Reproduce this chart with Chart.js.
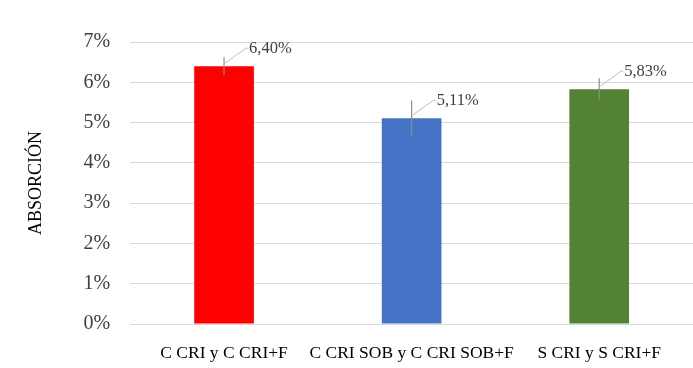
<!DOCTYPE html>
<html><head><meta charset="utf-8">
<script src="https://cdn.jsdelivr.net/npm/chart.js@4/dist/chart.umd.min.js"></script>
<style>html,body{margin:0;padding:0;background:#fff}#w{width:693px;height:368px}</style>
</head><body><div id="w"><canvas id="c"></canvas></div>
<script>
const categories = ["C CRI y C CRI+F", "C CRI SOB y C CRI SOB+F", "S CRI y S CRI+F"];
const values = [6.40, 5.11, 5.83];
const errors = [0.22, 0.44, 0.27];
const valueLabels = ["6,40%", "5,11%", "5,83%"];
const colors = ["#ff0000", "#4472c4", "#548235"];
const yTicks = [0, 1, 2, 3, 4, 5, 6, 7];

const extras = {
  id: 'extras',
  afterDatasetsDraw(chart) {
    const ctx = chart.ctx;
    const meta = chart.getDatasetMeta(0);
    const y = chart.scales.y;
    ctx.save();
    meta.data.forEach((bar, i) => {
      const x = bar.x;
      const top = y.getPixelForValue(values[i] + errors[i]);
      const bot = y.getPixelForValue(values[i] - errors[i]);
      ctx.strokeStyle = '#8c8c8c';
      ctx.lineWidth = 1.2;
      ctx.beginPath();
      ctx.moveTo(x, top); ctx.lineTo(x, bot);
      ctx.stroke();
      const vy = y.getPixelForValue(values[i]);
      ctx.strokeStyle = '#bfbfbf';
      ctx.lineWidth = 1;
      ctx.beginPath();
      ctx.moveTo(x + 1, vy - 3);
      ctx.lineTo(x + 22, vy - 18);
      ctx.lineTo(x + 24, vy - 18);
      ctx.stroke();
      ctx.fillStyle = '#404040';
      ctx.font = '16.5px "Liberation Serif", serif';
      ctx.textBaseline = 'middle';
      ctx.textAlign = 'left';
      ctx.fillText(valueLabels[i], x + 25, vy - 17);
    });
    ctx.restore();
  }
};

new Chart(document.getElementById('c'), {
  type: 'bar',
  data: {
    labels: categories,
    datasets: [{ data: values, backgroundColor: colors, categoryPercentage: 1, barPercentage: 0.318 }]
  },
  options: {
    responsive: true, maintainAspectRatio: false, animation: false,
    layout: { padding: { left: 25, right: 0, top: 42, bottom: 0 } },
    plugins: { legend: { display: false }, tooltip: { enabled: false } },
    scales: {
      x: {
        afterFit(axis) { axis.height = 44; },
        grid: { display: false, drawTicks: false },
        border: { display: false },
        ticks: { color: '#000', font: { family: '"Liberation Serif", serif', size: 17.5 }, padding: 19, maxRotation: 0, autoSkip: false }
      },
      y: {
        min: 0, max: 7,
        afterBuildTicks(axis) { axis.ticks = yTicks.map(v => ({ value: v })); },
        grid: { color: '#d9d9d9', drawTicks: false },
        border: { display: false },
        title: { display: true, text: 'ABSORCIÓN', color: '#000', font: { family: '"Liberation Serif", serif', size: 18 }, padding: { top: 0, bottom: 17 } },
        ticks: { color: '#404040', font: { family: '"Liberation Serif", serif', size: 20 }, padding: 20, callback: v => v + '%' }
      }
    }
  },
  plugins: [extras]
});
</script>
</body></html>
